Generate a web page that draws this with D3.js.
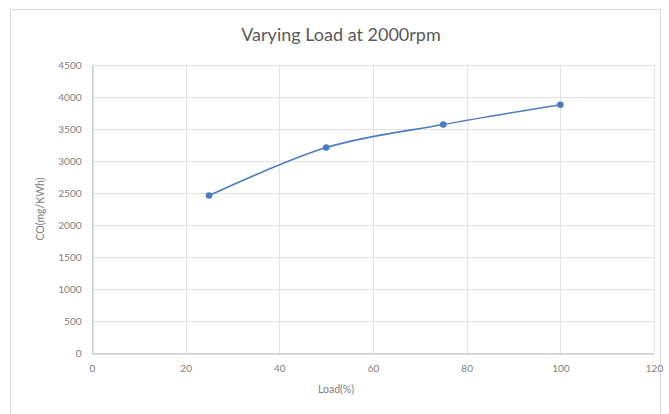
<!DOCTYPE html>
<html>
<head>
<meta charset="utf-8">
<script src="https://cdn.jsdelivr.net/npm/d3@7"></script>
<style>
  html, body { margin: 0; padding: 0; background: #fff; }
  svg { display: block; font-family: Lato, "Open Sans", sans-serif; }
</style>
</head>
<body>
<svg id="chart" width="669" height="414"></svg>
<script>
// Load sweep at 2000 rpm: CO emission per load step
const loads = [25, 50, 75, 100];
const coValues = [2460, 3210, 3570, 3880];
const xTicks = [0, 20, 40, 60, 80, 100, 120];
const yTicks = [0, 500, 1000, 1500, 2000, 2500, 3000, 3500, 4000, 4500];

const chartTitle = "Varying Load at 2000rpm";
const xTitle = "Load(%)";
const yTitle = "CO(mg/KWh)";

const svg = d3.select("#chart");
const plot = { left: 92, right: 654, top: 65, bottom: 353 };

const textColor = "#808080";
const gridColor = "#e3e3e3";
const lineColor = "#4a7cc4";

// outer chart frame
svg.append("rect")
  .attr("x", 10.5).attr("y", 9.5)
  .attr("width", 650).attr("height", 420)
  .attr("fill", "#fff").attr("stroke", "#d9d9d9");

const x = d3.scaleLinear().domain([0, 120]).range([plot.left, plot.right]);
const y = d3.scaleLinear().domain([0, 4500]).range([plot.bottom, plot.top]);

// gridlines
const grid = svg.append("g");
grid.selectAll("line.h").data(yTicks).join("line")
  .attr("class", "h")
  .attr("x1", plot.left).attr("x2", plot.right)
  .attr("y1", d => Math.round(y(d)) + 0.5).attr("y2", d => Math.round(y(d)) + 0.5)
  .attr("stroke", gridColor);
grid.selectAll("line.v").data(xTicks).join("line")
  .attr("class", "v")
  .attr("y1", plot.top).attr("y2", plot.bottom)
  .attr("x1", d => Math.round(x(d)) + 0.5).attr("x2", d => Math.round(x(d)) + 0.5)
  .attr("stroke", gridColor);

// axes
const xAxis = svg.append("g")
  .attr("transform", `translate(0,${Math.round(y(0)) + 0.5})`)
  .call(d3.axisBottom(x).tickValues(xTicks).tickSize(0).tickPadding(11));
const yAxis = svg.append("g")
  .attr("transform", `translate(${Math.round(x(0)) + 0.5},0)`)
  .call(d3.axisLeft(y).tickValues(yTicks).tickSize(0).tickPadding(11).tickFormat(d3.format("d")));
[xAxis, yAxis].forEach(g => {
  g.select(".domain").attr("stroke", "#bfbfbf");
  g.selectAll("text").attr("fill", textColor).attr("font-size", 10)
    .attr("font-family", "Lato, 'Open Sans', sans-serif");
});

// series line (smoothed) and markers
const pts = loads.map((l, i) => [l, coValues[i]]);
const line = d3.line()
  .x(d => x(d[0])).y(d => y(d[1]))
  .curve(d3.curveCardinal.tension(0));
svg.append("path")
  .attr("d", line(pts))
  .attr("fill", "none")
  .attr("stroke", lineColor)
  .attr("stroke-width", 1.6);
svg.selectAll("circle.pt").data(pts).join("circle")
  .attr("class", "pt")
  .attr("cx", d => x(d[0])).attr("cy", d => y(d[1]))
  .attr("r", 3.3)
  .attr("fill", lineColor);

// titles
svg.append("text")
  .attr("x", 341).attr("y", 41)
  .attr("text-anchor", "middle")
  .attr("fill", "#595959")
  .attr("font-size", 18)
  .text(chartTitle);
svg.append("text")
  .attr("x", 336).attr("y", 393)
  .attr("text-anchor", "middle")
  .attr("fill", textColor)
  .attr("font-size", 10.5)
  .text(xTitle);
svg.append("text")
  .attr("transform", "translate(44,209) rotate(-90)")
  .attr("text-anchor", "middle")
  .attr("fill", textColor)
  .attr("font-size", 10.5)
  .text(yTitle);
</script>
</body>
</html>
